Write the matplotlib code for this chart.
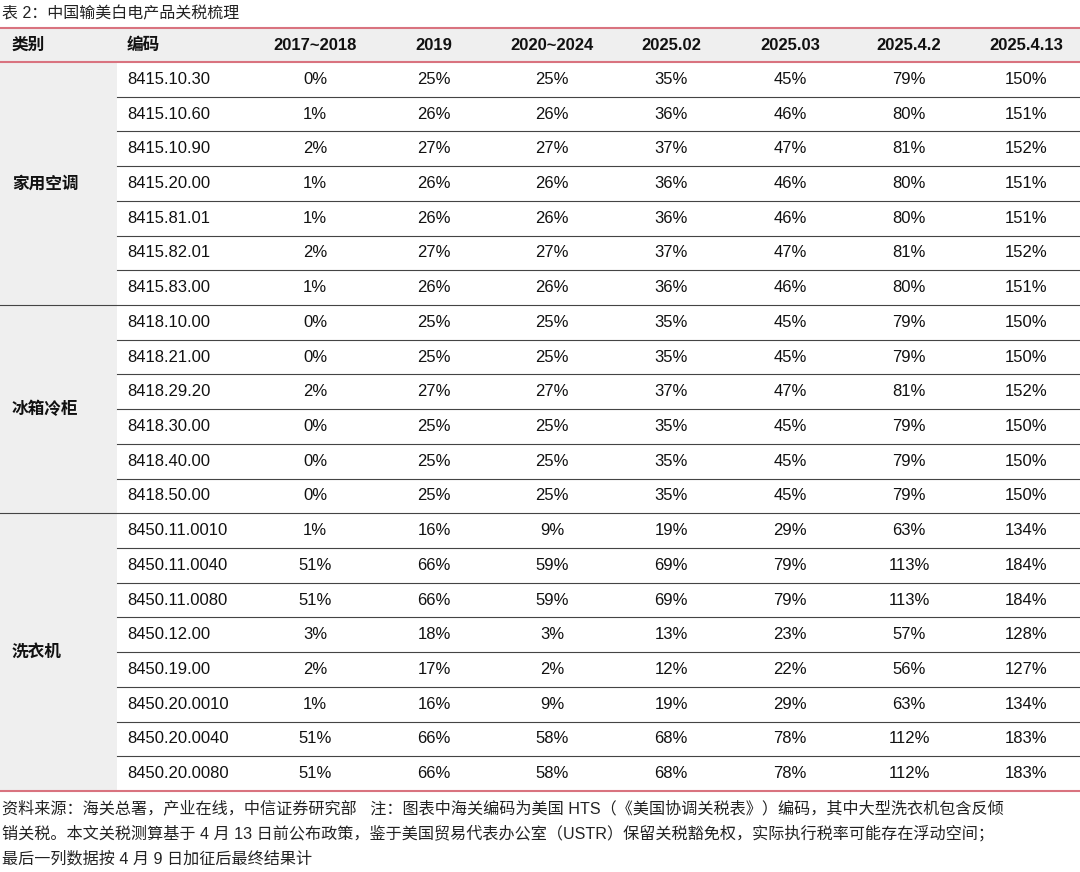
import matplotlib
matplotlib.use("Agg")
import matplotlib.pyplot as plt
from matplotlib.patches import Rectangle

plt.rcParams['font.family'] = ['Liberation Sans', 'Noto Sans CJK SC', 'DejaVu Sans']

title = "表 2：中国输美白电产品关税梳理"
headers = ["类别", "编码", "2017~2018", "2019", "2020~2024", "2025.02", "2025.03", "2025.4.2", "2025.4.13"]
groups = [("家用空调", 7), ("冰箱冷柜", 6), ("洗衣机", 8)]
codes = ["8415.10.30", "8415.10.60", "8415.10.90", "8415.20.00", "8415.81.01", "8415.82.01", "8415.83.00",
         "8418.10.00", "8418.21.00", "8418.29.20", "8418.30.00", "8418.40.00", "8418.50.00",
         "8450.11.0010", "8450.11.0040", "8450.11.0080", "8450.12.00", "8450.19.00", "8450.20.0010",
         "8450.20.0040", "8450.20.0080"]
v2017 = [0, 1, 2, 1, 1, 2, 1, 0, 0, 2, 0, 0, 0, 1, 51, 51, 3, 2, 1, 51, 51]
v2019 = [25, 26, 27, 26, 26, 27, 26, 25, 25, 27, 25, 25, 25, 16, 66, 66, 18, 17, 16, 66, 66]
v2020 = [25, 26, 27, 26, 26, 27, 26, 25, 25, 27, 25, 25, 25, 9, 59, 59, 3, 2, 9, 58, 58]
v202502 = [35, 36, 37, 36, 36, 37, 36, 35, 35, 37, 35, 35, 35, 19, 69, 69, 13, 12, 19, 68, 68]
v202503 = [45, 46, 47, 46, 46, 47, 46, 45, 45, 47, 45, 45, 45, 29, 79, 79, 23, 22, 29, 78, 78]
v20250402 = [79, 80, 81, 80, 80, 81, 80, 79, 79, 81, 79, 79, 79, 63, 113, 113, 57, 56, 63, 112, 112]
v20250413 = [150, 151, 152, 151, 151, 152, 151, 150, 150, 152, 150, 150, 150, 134, 184, 184, 128, 127, 134, 183, 183]
footer = ["资料来源：海关总署，产业在线，中信证券研究部   注：图表中海关编码为美国 HTS（《美国协调关税表》）编码，其中大型洗衣机包含反倾",
          "销关税。本文关税测算基于 4 月 13 日前公布政策，鉴于美国贸易代表办公室（USTR）保留关税豁免权，实际执行税率可能存在浮动空间；",
          "最后一列数据按 4 月 9 日加征后最终结果计"]

fig = plt.figure(figsize=(10.8, 8.72), dpi=100)
ax = fig.add_axes([0, 0, 1, 1])
ax.set_xlim(0, 1080)
ax.set_ylim(872, 0)
ax.axis('off')

red = '#d9737f'
gray = '#efefef'
top, hdr_bot = 28, 62
rh = (791 - hdr_bot) / 21.0
cat_w = 117
col_x = [12, 127, 315, 434, 552, 671, 790, 909, 1026]
fs = 12

ax.text(2, 14, title, fontsize=11.5, va='center', ha='left', color='#222')
ax.add_patch(Rectangle((0, top), 1080, hdr_bot - top, color=gray, lw=0))
ax.add_patch(Rectangle((0, hdr_bot), cat_w, 21 * rh, color=gray, lw=0))
for i, h in enumerate(headers):
    ax.text(col_x[i], (top + hdr_bot) / 2, h, fontsize=fs, fontweight='bold',
            ha='left' if i < 2 else 'center', va='center', color='#111')

cols = [v2017, v2019, v2020, v202502, v202503, v20250402, v20250413]
r = 0
for gname, n in groups:
    y0 = hdr_bot + r * rh
    ax.text(col_x[0], y0 + n * rh / 2, gname, fontsize=fs, fontweight='bold', ha='left', va='center', color='#111')
    for k in range(n):
        yc = hdr_bot + (r + k + 0.5) * rh
        ax.text(col_x[1], yc, codes[r + k], fontsize=fs, ha='left', va='center', color='#111')
        for j, c in enumerate(cols):
            ax.text(col_x[j + 2], yc, f"{c[r + k]}%", fontsize=fs, ha='center', va='center', color='#111')
        if k < n - 1:
            ax.plot([cat_w, 1080], [yc + rh / 2] * 2, color='#444', lw=0.8)
    r += n
    if r < 21:
        ax.plot([0, 1080], [hdr_bot + r * rh] * 2, color='#444', lw=0.8)

for y in (top, hdr_bot, 791):
    ax.plot([0, 1080], [y, y], color=red, lw=1.5)

for i, line in enumerate(footer):
    ax.text(2, 808 + i * 25.5, line, fontsize=11.6, ha='left', va='center', color='#222')

fig.savefig("out.png", dpi=100)
